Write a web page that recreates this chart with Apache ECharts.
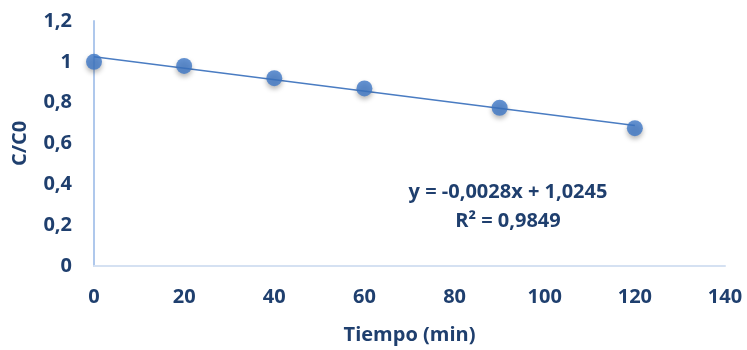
<!DOCTYPE html>
<html><head><meta charset="utf-8">
<script src="https://cdn.jsdelivr.net/npm/echarts@6/dist/echarts.min.js"></script>
<style>html,body{margin:0;padding:0;background:#fff}#c{width:747px;height:350px}</style>
</head><body><div id="c"></div>
<script>
const tiempo = [0, 20, 40, 60, 90, 120];
const cc0 = [1.0, 0.98, 0.92, 0.87, 0.775, 0.675];
const slope = -0.0028;
const intercept = 1.0245;
const eqText = 'y = -0,0028x + 1,0245';
const r2Text = 'R² = 0,9849';
const xName = 'Tiempo (min)';
const yName = 'C/C0';

const trendX = [tiempo[0], tiempo[tiempo.length - 1]];
const trend = trendX.map(x => [x, slope * x + intercept]);
const navy = '#1F3F6E';
const font = '"Open Sans", sans-serif';
const fmt = v => String(+v.toFixed(1)).replace('.', ',');

const chart = echarts.init(document.getElementById('c'));
chart.setOption({
  animation: false,
  grid: { left: 94, right: 22, top: 21, bottom: 81 },
  xAxis: {
    type: 'value', min: 0, max: 140, interval: 20,
    name: xName, nameLocation: 'middle', nameGap: 59,
    nameTextStyle: { color: navy, fontFamily: font, fontWeight: 'bold', fontSize: 20 },
    axisLine: { show: true, lineStyle: { color: '#D5E1F2', width: 2 } },
    axisTick: { show: false },
    splitLine: { show: false },
    axisLabel: { color: navy, fontFamily: font, fontWeight: 'bold', fontSize: 20, margin: 21 }
  },
  yAxis: {
    type: 'value', min: 0, max: 1.2, interval: 0.2,
    name: yName, nameLocation: 'middle', nameGap: 64, nameRotate: 90,
    nameTextStyle: { color: navy, fontFamily: font, fontWeight: 'bold', fontSize: 20 },
    axisLine: { show: true, lineStyle: { color: '#AFC8EC', width: 2 } },
    axisTick: { show: false },
    splitLine: { show: false },
    axisLabel: { color: navy, fontFamily: font, fontWeight: 'bold', fontSize: 20, margin: 22, formatter: fmt }
  },
  series: [
    {
      type: 'line', data: trend, symbol: 'none', silent: true,
      lineStyle: { color: '#4A7CC2', width: 1.6 }, z: 2
    },
    {
      type: 'scatter', data: tiempo.map((x, i) => [x, cc0[i]]),
      symbolSize: 16, z: 3,
      itemStyle: {
        color: '#3D77C6', shadowBlur: 5, shadowColor: 'rgba(0,0,0,0.35)', shadowOffsetY: 3
      }
    }
  ],
  graphic: [
    { type: 'text', x: 508, y: 192, style: { text: eqText, fill: navy, font: 'bold 20px ' + font, textAlign: 'center', textVerticalAlign: 'middle' } },
    { type: 'text', x: 508, y: 221, style: { text: r2Text, fill: navy, font: 'bold 20px ' + font, textAlign: 'center', textVerticalAlign: 'middle' } }
  ]
});
</script></body></html>
